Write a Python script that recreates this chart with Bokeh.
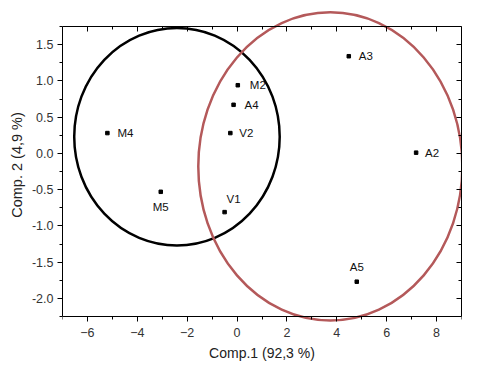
from bokeh.plotting import figure
from bokeh.models import (ColumnDataSource, LinearAxis, FixedTicker, Range1d,
                          NumeralTickFormatter, LabelSet)
from bokeh.core.properties import value
from bokeh.embed import file_html
from bokeh.resources import INLINE

# ---- data ----
names = ["M4", "M2", "A4", "V2", "A3", "A2", "M5", "V1", "A5"]
comp1 = [-5.2, 0.03, -0.14, -0.27, 4.48, 7.18, -3.06, -0.50, 4.80]
comp2 = [0.28, 0.94, 0.67, 0.28, 1.34, 0.01, -0.53, -0.81, -1.77]

# group ellipses: centre x, centre y, width, height (data units)
ell_cx = [-2.41, 3.74]
ell_cy = [0.23, -0.18]
ell_w = [8.24, 10.59]
ell_h = [3.0, 4.25]
ell_color = ["black", "#b4595a"]

x_ticks = [-6, -4, -2, 0, 2, 4, 6, 8]
x_minor = [-7, -5, -3, -1, 1, 3, 5, 7, 9]
y_ticks = [-2.0, -1.5, -1.0, -0.5, 0.0, 0.5, 1.0, 1.5]
y_minor = [-2.25, -1.75, -1.25, -0.75, -0.25, 0.25, 0.75, 1.25, 1.75]

# axis box limits
X_MIN, X_MAX = -7, 9
Y_MIN, Y_MAX = -2.25, 1.75

# ---- label placement (style) ----
lab_dx = [10, 12, 11, 9, 10, 9, 0, 2, 0]
lab_dy = [0, 0, 0, 0, 0, 0, -15, 13, 15]
lab_align = ["left"] * 6 + ["center", "left", "center"]

FONT = "Liberation Sans"

# the frame is a little taller than the axis box so the red ellipse may
# spill over the top and bottom axes, as in the reference
PX_PER_Y = 72.5
p = figure(width=479, height=366, output_backend="svg", toolbar_location=None,
           x_range=Range1d(X_MIN, X_MAX),
           y_range=Range1d(Y_MIN - 7 / PX_PER_Y, Y_MAX + 20 / PX_PER_Y),
           min_border_left=62, min_border_right=18, min_border_top=6,
           min_border_bottom=43, x_axis_location=None, y_axis_location=None)
p.grid.visible = False
p.outline_line_color = None
p.background_fill_color = "white"
p.border_fill_color = "white"

src = ColumnDataSource(dict(x=comp1, y=comp2, name=names, dx=lab_dx, dy=lab_dy,
                            align=lab_align))
esrc = ColumnDataSource(dict(x=ell_cx, y=ell_cy, w=ell_w, h=ell_h, c=ell_color))

p.ellipse(x="x", y="y", width="w", height="h", source=esrc,
          fill_color=None, line_color="c", line_width=2.5)

p.scatter(x="x", y="y", source=src, marker="square", size=3.5,
          fill_color="black", line_color="black")

labels = LabelSet(x="x", y="y", text="name", x_offset="dx", y_offset="dy",
                  text_align="align", text_baseline="middle", source=src,
                  text_font=value(FONT), text_font_size="11.5px", text_color="#111111")
p.add_layout(labels)


def style_text(ax):
    ax.axis_label_text_font = FONT
    ax.axis_label_text_font_size = "14px"
    ax.axis_label_text_font_style = "normal"
    ax.axis_label_text_color = "#222222"
    ax.major_label_text_font = FONT
    ax.major_label_text_font_size = "12.5px"
    ax.major_label_text_color = "#333333"


def hide_text(ax):
    ax.major_label_text_font_size = "0px"
    ax.major_label_text_color = None
    ax.major_label_standoff = 0


# bottom: labels-only axis at the frame edge
xa = LinearAxis(ticker=FixedTicker(ticks=x_ticks, minor_ticks=x_minor),
                bounds=(X_MIN, X_MAX), axis_label="Comp.1 (92,3 %)")
style_text(xa)
xa.axis_line_color = None
xa.major_tick_line_color = None
xa.minor_tick_line_color = None
xa.major_tick_in = xa.major_tick_out = 0
xa.minor_tick_in = xa.minor_tick_out = 0
xa.major_label_standoff = 4
xa.axis_label_standoff = 5

# left axis
ya = LinearAxis(ticker=FixedTicker(ticks=y_ticks, minor_ticks=y_minor),
                bounds=(Y_MIN, Y_MAX), formatter=NumeralTickFormatter(format="0.0"),
                axis_label="Comp. 2 (4,9 %)")
style_text(ya)
ya.axis_label_text_font_size = "14.5px"
ya.axis_line_color = "black"
ya.major_tick_in = 0
ya.major_tick_out = 5
ya.minor_tick_in = 0
ya.minor_tick_out = 3
ya.major_label_standoff = 4
ya.axis_label_standoff = 4

# box lines at the bottom (ticks pointing down) and at the top (ticks pointing down)
bottom_line = LinearAxis(ticker=FixedTicker(ticks=x_ticks, minor_ticks=x_minor),
                         fixed_location=Y_MIN, bounds=(X_MIN, X_MAX))
top_line = LinearAxis(ticker=FixedTicker(ticks=x_ticks, minor_ticks=x_minor),
                      fixed_location=Y_MAX, bounds=(X_MIN, X_MAX))
right = LinearAxis(ticker=FixedTicker(ticks=y_ticks, minor_ticks=y_minor),
                   bounds=(Y_MIN, Y_MAX))
for ax in (bottom_line, top_line, right):
    hide_text(ax)
    ax.axis_line_color = "black"
    ax.major_tick_in = 5
    ax.major_tick_out = 0
    ax.minor_tick_in = 3
    ax.minor_tick_out = 0

p.add_layout(xa, "below")
p.add_layout(ya, "left")
p.add_layout(top_line, "above")
p.add_layout(bottom_line, "above")
p.add_layout(right, "right")

open("out.html", "w").write(file_html(p, INLINE))
